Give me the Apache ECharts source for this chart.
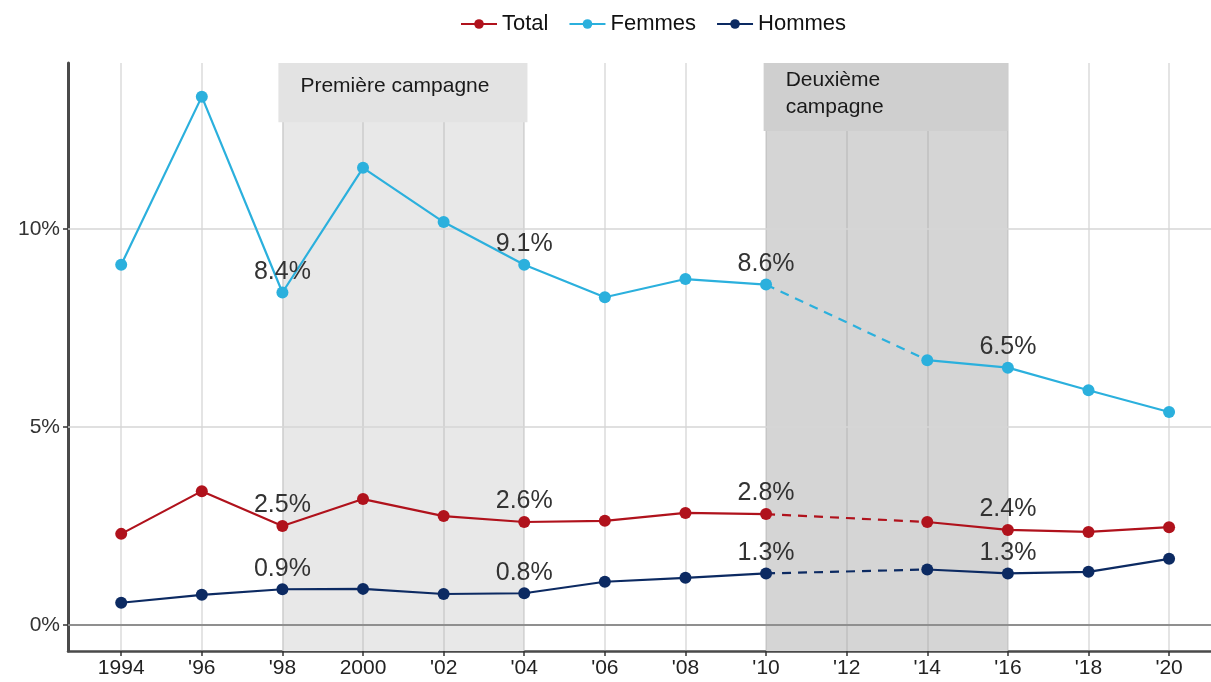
<!DOCTYPE html>
<html>
<head>
<meta charset="utf-8">
<script src="https://cdn.jsdelivr.net/npm/echarts@6/dist/echarts.min.js"></script>
<style>
  html, body { margin: 0; padding: 0; background: #fff; }
  #chart { width: 1211px; height: 682px; }
</style>
</head>
<body>
<div id="chart"></div>
<script>
// Survey years (category index = position on the x axis)
const years = ['1994', "'96", "'98", '2000', "'02", "'04", "'06", "'08", "'10", "'12", "'14", "'16", "'18", "'20"];

// Shares in percent; no survey in 2012
const total  = [2.3, 3.38, 2.5, 3.18, 2.75, 2.6, 2.63, 2.83, 2.8, null, 2.6, 2.4, 2.35, 2.47];
const femmes = [9.1, 13.35, 8.4, 11.55, 10.18, 9.1, 8.28, 8.74, 8.6, null, 6.69, 6.5, 5.93, 5.38];
const hommes = [0.56, 0.76, 0.9, 0.91, 0.78, 0.8, 1.09, 1.19, 1.3, null, 1.4, 1.3, 1.34, 1.67];

// Years whose values are printed
const labelledYears = ["'98", "'04", "'10", "'16"];

// Y axis ticks (percent)
const yTicks = [0, 5, 10];

// Campaign periods
const campaigns = [
  { name: 'Première campagne', from: "'98", to: "'04" },
  { name: 'Deuxième\ncampagne', from: "'10", to: "'16" }
];

const FONT = '"Liberation Sans", Arial, sans-serif';
const xIdx = y => years.indexOf(y);
const labelledIdx = labelledYears.map(xIdx);

function points(values) {
  return values.map((v, i) => [i, v === null ? '-' : v]);
}
// Dashed bridge over the missing survey year
function bridge(values) {
  const gap = values.indexOf(null);
  return [[gap - 1, values[gap - 1]], [gap + 1, values[gap + 1]]];
}

function mainSeries(name, values, color) {
  return {
    name: name,
    type: 'line',
    z: 10,
    data: points(values),
    symbol: 'circle',
    symbolSize: 12,
    connectNulls: false,
    itemStyle: { color: color },
    lineStyle: { color: color, width: 2.2 },
    label: {
      show: true,
      position: 'top',
      distance: 2,
      fontFamily: FONT,
      fontSize: 25,
      color: '#333',
      formatter: p => labelledIdx.includes(p.value[0]) ? p.value[1].toFixed(1) + '%' : ''
    },
    emphasis: { disabled: true },
    animation: false
  };
}
function bridgeSeries(name, values, color) {
  return {
    name: name + ' (2010–2014)',
    type: 'line',
    z: 9,
    data: bridge(values),
    symbol: 'none',
    lineStyle: { color: color, width: 2.2, type: [9, 7] },
    emphasis: { disabled: true },
    animation: false
  };
}

const C_TOTAL = '#b0121c', C_FEM = '#2bb0dd', C_HOM = '#0c2a62';

const titleLabel = {
  show: true, position: 'insideTopLeft', distance: 0,
  fontFamily: FONT, fontSize: 21, color: '#1a1a1a', lineHeight: 27
};

const chart = echarts.init(document.getElementById('chart'), null, { renderer: 'canvas' });

chart.setOption({
  backgroundColor: '#fff',
  animation: false,
  legend: {
    data: ['Total', 'Femmes', 'Hommes'],
    top: 8,
    left: 455,
    itemWidth: 36,
    itemHeight: 12,
    itemGap: 20,
    textStyle: { fontFamily: FONT, fontSize: 22, color: '#111' }
  },
  grid: { left: 68, right: 0, top: 63, bottom: 31 },
  xAxis: {
    type: 'value',
    min: -0.66,
    max: 13.52,
    axisLine: { onZero: false, lineStyle: { color: '#4a4a4a', width: 2.5 } },
    axisTick: { show: true, customValues: years.map((_, i) => i), length: 5, lineStyle: { color: '#333', width: 1.5 } },
    axisLabel: {
      customValues: years.map((_, i) => i),
      formatter: v => years[Math.round(v)],
      fontFamily: FONT, fontSize: 21, color: '#222', margin: 7
    },
    splitLine: { show: false }
  },
  yAxis: {
    type: 'value',
    min: -0.66,
    max: 14.2,
    axisLine: { show: true, onZero: false, lineStyle: { color: '#4a4a4a', width: 3 } },
    axisTick: { show: true, customValues: yTicks, length: 5, lineStyle: { color: '#333', width: 1.5 } },
    axisLabel: {
      customValues: yTicks,
      formatter: v => v + '%',
      fontFamily: FONT, fontSize: 21, color: '#333', margin: 8
    },
    splitLine: { show: false }
  },
  series: [
    // campaign bands
    {
      name: 'bands', type: 'line', data: [], silent: true,
      markArea: {
        silent: true, z: 1,
        data: campaigns.map((c, k) => [
          { xAxis: xIdx(c.from), yAxis: 'min', itemStyle: { color: k === 0 ? '#e8e8e8' : '#d5d5d5' } },
          { xAxis: xIdx(c.to), yAxis: 'max' }
        ])
      }
    },
    // grid lines
    {
      name: 'grid', type: 'line', data: [], silent: true,
      markLine: {
        silent: true, z: 2, symbol: 'none', label: { show: false },
        data: years.map((_, i) => ({ xAxis: i, lineStyle: { color: 'rgba(150,150,150,0.35)', width: 1.5, type: 'solid' } }))
          .concat(yTicks.map(t => ({
            yAxis: t,
            lineStyle: t === 0 ? { color: '#8f8f8f', width: 2, type: 'solid' } : { color: '#d6d6d6', width: 1.5, type: 'solid' }
          })))
      }
    },
    // campaign title boxes
    {
      name: 'titles', type: 'line', data: [], silent: true, clip: false,
      markArea: {
        silent: true, z: 3,
        data: [
          [
            { xAxis: xIdx(campaigns[0].from) - 0.05, yAxis: 14.2, name: campaigns[0].name,
              itemStyle: { color: '#e3e3e3' },
              label: Object.assign({}, titleLabel, { offset: [22, 10] }) },
            { xAxis: xIdx(campaigns[0].to) + 0.04, yAxis: 12.7 }
          ],
          [
            { xAxis: xIdx(campaigns[1].from) - 0.03, yAxis: 14.2, name: campaigns[1].name,
              itemStyle: { color: '#cfcfcf' },
              label: Object.assign({}, titleLabel, { offset: [22, 4] }) },
            { xAxis: xIdx(campaigns[1].to), yAxis: 12.48 }
          ]
        ]
      }
    },
    mainSeries('Total', total, C_TOTAL),
    mainSeries('Femmes', femmes, C_FEM),
    mainSeries('Hommes', hommes, C_HOM),
    bridgeSeries('Total', total, C_TOTAL),
    bridgeSeries('Femmes', femmes, C_FEM),
    bridgeSeries('Hommes', hommes, C_HOM)
  ]
});
</script>
</body>
</html>
